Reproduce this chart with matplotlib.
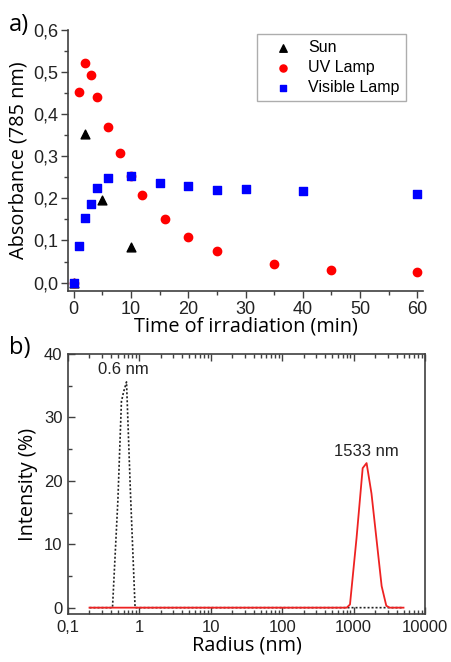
import matplotlib
matplotlib.use("Agg")
import matplotlib.pyplot as plt
from matplotlib.ticker import MultipleLocator, FuncFormatter, LogLocator, FixedLocator
import numpy as np

# --- panel a: absorbance vs time ---
sun_t = [0, 2, 5, 10]
sun_abs = [0.0, 0.352, 0.195, 0.084]

uv_t = [0, 1, 2, 3, 4, 6, 8, 10, 12, 16, 20, 25, 35, 45, 60]
uv_abs = [0.0, 0.452, 0.522, 0.492, 0.441, 0.370, 0.308, 0.252, 0.208,
          0.152, 0.108, 0.075, 0.044, 0.029, 0.024]

vis_t = [0, 1, 2, 3, 4, 6, 10, 15, 20, 25, 30, 40, 60]
vis_abs = [0.0, 0.086, 0.153, 0.186, 0.224, 0.248, 0.252, 0.236, 0.229,
           0.221, 0.222, 0.217, 0.210]

# --- panel b: size distribution ---
small_r = [0.2, 0.42, 0.5, 0.56, 0.6, 0.66, 0.75, 0.87, 1.0, 10, 100, 1000, 5000]
small_int = [0, 0, 17, 32.5, 34, 35.6, 18, 0, 0, 0, 0, 0, 0]

big_r = [0.2, 1, 10, 100, 800, 890, 1100, 1340, 1520, 1780, 2470, 2870, 3200, 5000]
big_int = [0, 0, 0, 0, 0, 0.5, 11, 22, 22.8, 18, 3.4, 0.3, 0, 0]

tick_font = "Liberation Sans"
label_font = "Open Sans"
spine_col = "#404040"

fig = plt.figure(figsize=(4.51, 6.62), dpi=100)

comma = FuncFormatter(lambda v, p: f"{v:.1f}".replace(".", ","))

# ---------------- a) ----------------
ax1 = fig.add_axes([68/451, 1-291/662, 355/451, 261/662])
ax1.scatter(sun_t, sun_abs, marker="^", s=40, color="black", zorder=3, label="Sun")
ax1.scatter(uv_t, uv_abs, marker="o", s=36, color="#ff0000", zorder=4, label="UV Lamp")
ax1.scatter(vis_t, vis_abs, marker="s", s=28, color="#0000ff", zorder=5, label="Visible Lamp")
ax1.set_xlim(-1, 61)
ax1.set_ylim(-0.02, 0.6)
ax1.xaxis.set_major_locator(MultipleLocator(10))
ax1.xaxis.set_minor_locator(MultipleLocator(5))
ax1.yaxis.set_major_locator(MultipleLocator(0.1))
ax1.yaxis.set_minor_locator(MultipleLocator(0.05))
ax1.yaxis.set_major_formatter(comma)
for s in ["top", "right"]:
    ax1.spines[s].set_visible(False)
for s in ["left", "bottom"]:
    ax1.spines[s].set_color(spine_col)
    ax1.spines[s].set_linewidth(1.2)
ax1.tick_params(which="major", direction="out", length=5, width=1, color=spine_col,
                labelsize=13, pad=2)
ax1.tick_params(which="minor", direction="out", length=3, width=1, color=spine_col)
for lab in ax1.get_xticklabels() + ax1.get_yticklabels():
    lab.set_fontfamily(tick_font)
    lab.set_color("#222222")
ax1.set_xlabel("Time of irradiation (min)", fontsize=14.3, family=label_font, labelpad=-1)
ax1.set_ylabel("Absorbance (785 nm)", fontsize=14.3, family=label_font, labelpad=3)
leg = ax1.legend(loc="upper right", bbox_to_anchor=(0.952, 0.985), frameon=True,
                 fancybox=False, edgecolor="#999999", prop={"family": tick_font, "size": 11.5},
                 handletextpad=0.4, borderpad=0.4, labelspacing=0.3, borderaxespad=0,
                 handlelength=2.4, scatterpoints=1, markerscale=0.85)
leg.get_frame().set_linewidth(1.0)

fig.text(9/451, 1-25/662, "a)", fontsize=17, family=label_font, va="center")

# ---------------- b) ----------------
ax2 = fig.add_axes([68/451, 1-614/662, 357/451, 260/662])
ax2.plot(small_r, small_int, color="#222222", linestyle=(0, (1.2, 1.2)), linewidth=1.2, zorder=2)
ax2.plot(big_r, big_int, color="#ee2222", linewidth=1.3, zorder=3)
ax2.set_xscale("log")
ax2.set_xlim(0.1, 10000)
ax2.set_ylim(-1, 40)
ax2.xaxis.set_major_locator(FixedLocator([0.1, 1, 10, 100, 1000, 10000]))
ax2.xaxis.set_minor_locator(LogLocator(base=10, subs=np.arange(2, 10)))
ax2.xaxis.set_major_formatter(FuncFormatter(
    lambda v, p: "0,1" if v < 0.5 else f"{v:.0f}"))
ax2.yaxis.set_major_locator(MultipleLocator(10))
ax2.yaxis.set_minor_locator(MultipleLocator(5))
for s in ax2.spines.values():
    s.set_color(spine_col)
    s.set_linewidth(1.2)
ax2.tick_params(which="major", direction="in", length=5, width=1, color=spine_col,
                top=True, labelsize=12, pad=4)
ax2.tick_params(which="minor", direction="in", length=3, width=1, color=spine_col, top=True)
ax2.tick_params(axis="y", which="both", right=False)
for lab in ax2.get_xticklabels() + ax2.get_yticklabels():
    lab.set_fontfamily(tick_font)
    lab.set_color("#222222")
ax2.set_xlabel("Radius (nm)", fontsize=14.3, family=label_font, labelpad=1)
ax2.set_ylabel("Intensity (%)", fontsize=14.3, family=label_font, labelpad=4)
ax2.text(0.6, 37.5, "0.6 nm", family=tick_font, fontsize=12, ha="center", va="center", color="#222222")
ax2.text(1533, 24.7, "1533 nm", family=tick_font, fontsize=12, ha="center", va="center", color="#222222")

fig.text(9/451, 1-348/662, "b)", fontsize=17, family=label_font, va="center")

fig.savefig("out.png", dpi=100)
